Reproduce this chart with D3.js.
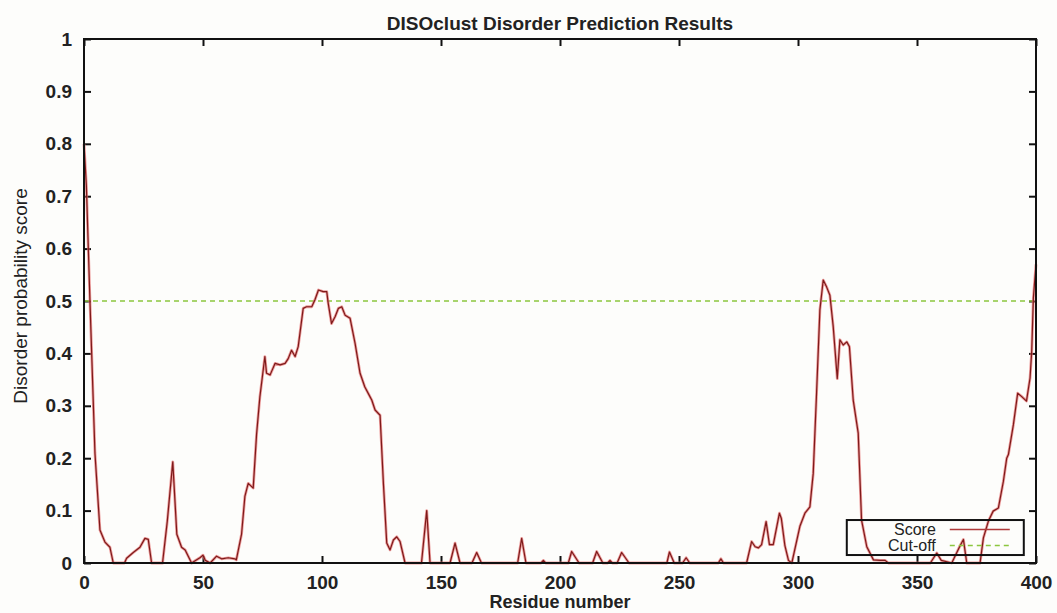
<!DOCTYPE html>
<html>
<head>
<meta charset="utf-8">
<script src="https://cdn.jsdelivr.net/npm/d3@7"></script>
<style>
  body { margin: 0; background: #fdfdfb; }
  svg { display: block; }
  text { font-family: "Liberation Sans", Arial, sans-serif; fill: #222; }
</style>
</head>
<body>
<div id="chart"></div>
<script>
// residue positions and disorder scores
const residues = [0, 1, 2.5, 4.6, 6.7, 8.8, 10.9, 12.3, 17, 17.9, 20.7, 23.5, 25.6, 27, 28.4,
  33, 35, 37.3, 39, 41, 42.5, 45.2, 48.7, 50, 51, 53, 55.7, 57.8, 60.6, 63.4, 64,
  66.2, 67.6, 69, 71.1, 72.5, 73.9, 76, 76.7, 78.2, 80.3, 82.4, 84.5, 85.8, 87.2, 88.7, 90,
  92.1, 93.5, 95.7, 97, 98.5, 100.5, 102, 102.6, 104, 105.5, 106.9, 108.3, 109.7, 111.8,
  113.9, 116, 118, 120.2, 120.9, 122.3, 124.4, 125.8, 127.2, 128.6, 130, 131.4, 132.8, 134.9,
  141.8, 144, 145.4, 153.8, 155.9, 158, 163, 165, 167, 182.2, 183.9, 185.7, 192, 193, 194,
  203.5, 204.9, 208, 213.7, 215.4, 218, 220, 221, 222, 224, 225.9, 229,
  244.9, 246, 248, 251.5, 253, 254.5, 266.5, 267.6, 268.7,
  278.4, 280.5, 282, 283.4, 284.7, 286.6, 288, 289.6, 292.2, 293, 294.5, 296, 297.4,
  300.8, 302.9, 305, 306.4, 307.8, 309.2, 310.6, 312, 313.4, 314.8, 316.5, 317.6, 319, 320.5,
  321.6, 323.2, 325.3, 326.7, 328.9, 331.7, 334.5, 336.6, 338, 355.6, 358.3, 360.2, 364.6,
  368, 369.5, 370.9, 376.5, 377.9, 380, 382, 384.2, 386.3, 387.7, 388.4, 390.5, 392.3,
  393.9, 396, 397.5, 398.2, 398.9, 400];
const scores = [0.80, 0.72, 0.50, 0.21, 0.063, 0.04, 0.03, 0.0, 0.0, 0.009, 0.02, 0.03, 0.047, 0.045, 0.0,
  0.0, 0.08, 0.193, 0.055, 0.03, 0.025, 0.0, 0.01, 0.015, 0.005, 0.0, 0.013, 0.008, 0.01, 0.008, 0.006,
  0.055, 0.127, 0.152, 0.143, 0.245, 0.317, 0.394, 0.362, 0.359, 0.381, 0.378, 0.381, 0.39, 0.406, 0.394, 0.413,
  0.486, 0.489, 0.489, 0.502, 0.521, 0.518, 0.518, 0.496, 0.457, 0.47, 0.486, 0.489, 0.473, 0.467,
  0.419, 0.362, 0.336, 0.317, 0.311, 0.292, 0.282, 0.152, 0.038, 0.025, 0.044, 0.05, 0.041, 0.0,
  0.0, 0.1, 0.0, 0.0, 0.038, 0.0, 0.0, 0.02, 0.0, 0.0, 0.047, 0.0, 0.0, 0.005, 0.0,
  0.0, 0.022, 0.0, 0.0, 0.022, 0.0, 0.0, 0.005, 0.0, 0.0, 0.02, 0.0,
  0.0, 0.021, 0.0, 0.0, 0.01, 0.0, 0.0, 0.008, 0.0,
  0.0, 0.041, 0.031, 0.029, 0.035, 0.079, 0.035, 0.035, 0.095, 0.085, 0.033, 0.005, 0.0,
  0.07, 0.095, 0.107, 0.171, 0.324, 0.483, 0.54, 0.527, 0.511, 0.451, 0.352, 0.426, 0.416, 0.422,
  0.413, 0.311, 0.248, 0.082, 0.031, 0.006, 0.005, 0.005, 0.0, 0.0, 0.019, 0.005, 0.0,
  0.032, 0.045, 0.0, 0.0, 0.048, 0.08, 0.099, 0.105, 0.156, 0.2, 0.207, 0.264, 0.324,
  0.318, 0.309, 0.353, 0.404, 0.506, 0.57];
const cutoff = 0.5;
const xTicks = [0, 50, 100, 150, 200, 250, 300, 350, 400];
const yTicks = [0, 0.1, 0.2, 0.3, 0.4, 0.5, 0.6, 0.7, 0.8, 0.9, 1];

const W = 1057, H = 613;
const margin = { top: 39, right: 21, bottom: 50, left: 84 };
const width = W - margin.left - margin.right;
const height = H - margin.top - margin.bottom;

const svg = d3.select('#chart').append('svg')
  .attr('width', W)
  .attr('height', H);
const g = svg.append('g')
  .attr('transform', `translate(${margin.left}, ${margin.top})`);

const x = d3.scaleLinear().domain([0, 400]).range([0, width]);
const y = d3.scaleLinear().domain([0, 1]).range([height, 0]);

const tickLen = 7;

// axes, ticks pointing inward on all four sides
g.append('g')
  .attr('transform', `translate(0, ${height})`)
  .call(d3.axisBottom(x).tickValues(xTicks).tickSize(-tickLen).tickPadding(13).tickFormat(d3.format('d')))
  .call(a => a.select('.domain').remove());
g.append('g')
  .call(d3.axisTop(x).tickValues(xTicks).tickSize(-tickLen).tickFormat(''))
  .call(a => a.select('.domain').remove());
g.append('g')
  .call(d3.axisLeft(y).tickValues(yTicks).tickSize(-tickLen).tickPadding(12).tickFormat(d => d === 0 || d === 1 ? d3.format('d')(d) : d3.format('.1f')(d)))
  .call(a => a.select('.domain').remove());
g.append('g')
  .attr('transform', `translate(${width}, 0)`)
  .call(d3.axisRight(y).tickValues(yTicks).tickSize(-tickLen).tickFormat(''))
  .call(a => a.select('.domain').remove());

g.selectAll('.tick line').attr('stroke', '#111').attr('stroke-width', 2);
g.selectAll('.tick text')
  .style('font-size', '19px')
  .style('font-weight', 'bold')
  .attr('fill', '#2a2a2a');

// cut-off line
g.append('line')
  .attr('x1', 0).attr('x2', width)
  .attr('y1', y(cutoff)).attr('y2', y(cutoff))
  .attr('stroke', '#8cc63f')
  .attr('stroke-width', 1.5)
  .attr('stroke-dasharray', '5,4');

// score line: soft red halo plus dark core
const line = d3.line()
  .x((d, i) => x(residues[i]))
  .y(d => y(d));
g.append('path')
  .datum(scores)
  .attr('fill', 'none')
  .attr('stroke', '#e57373')
  .attr('stroke-width', 2.8)
  .attr('stroke-opacity', 0.7)
  .attr('stroke-linejoin', 'round')
  .attr('d', line);
g.append('path')
  .datum(scores)
  .attr('fill', 'none')
  .attr('stroke', '#7d1a1a')
  .attr('stroke-width', 1.2)
  .attr('stroke-linejoin', 'round')
  .attr('d', line);

// frame
g.append('rect')
  .attr('width', width).attr('height', height)
  .attr('fill', 'none')
  .attr('stroke', '#111')
  .attr('stroke-width', 2);

// legend
const lg = g.append('g').attr('transform', `translate(${x(320.5)}, ${y(0.082)})`);
lg.append('rect')
  .attr('width', 177).attr('height', 35)
  .attr('fill', 'none')
  .attr('stroke', '#111')
  .attr('stroke-width', 2);
const legendItems = [
  { label: 'Score', color: '#b03a3a', dash: null },
  { label: 'Cut-off', color: '#8cc63f', dash: '5,4' }
];
legendItems.forEach((it, i) => {
  const cy = 9.5 + i * 16;
  lg.append('text')
    .attr('x', 89).attr('y', cy)
    .attr('dy', '0.35em')
    .attr('text-anchor', 'end')
    .style('font-size', '16px')
    .text(it.label);
  lg.append('line')
    .attr('x1', 103).attr('x2', 163)
    .attr('y1', cy).attr('y2', cy)
    .attr('stroke', it.color)
    .attr('stroke-width', 1.5)
    .attr('stroke-dasharray', it.dash);
});

// titles
svg.append('text')
  .attr('x', margin.left + width / 2)
  .attr('y', 23)
  .attr('dy', '0.35em')
  .attr('text-anchor', 'middle')
  .style('font-size', '19px')
  .style('font-weight', 'bold')
  .text('DISOclust Disorder Prediction Results');

svg.append('text')
  .attr('transform', `translate(20, ${margin.top + height / 2 - 5}) rotate(-90)`)
  .attr('dy', '0.35em')
  .attr('text-anchor', 'middle')
  .style('font-size', '19px')
  .text('Disorder probability score');

svg.append('text')
  .attr('x', margin.left + width / 2)
  .attr('y', 602)
  .attr('dy', '0.35em')
  .attr('text-anchor', 'middle')
  .style('font-size', '18px')
  .style('font-weight', 'bold')
  .text('Residue number');
</script>
</body>
</html>
